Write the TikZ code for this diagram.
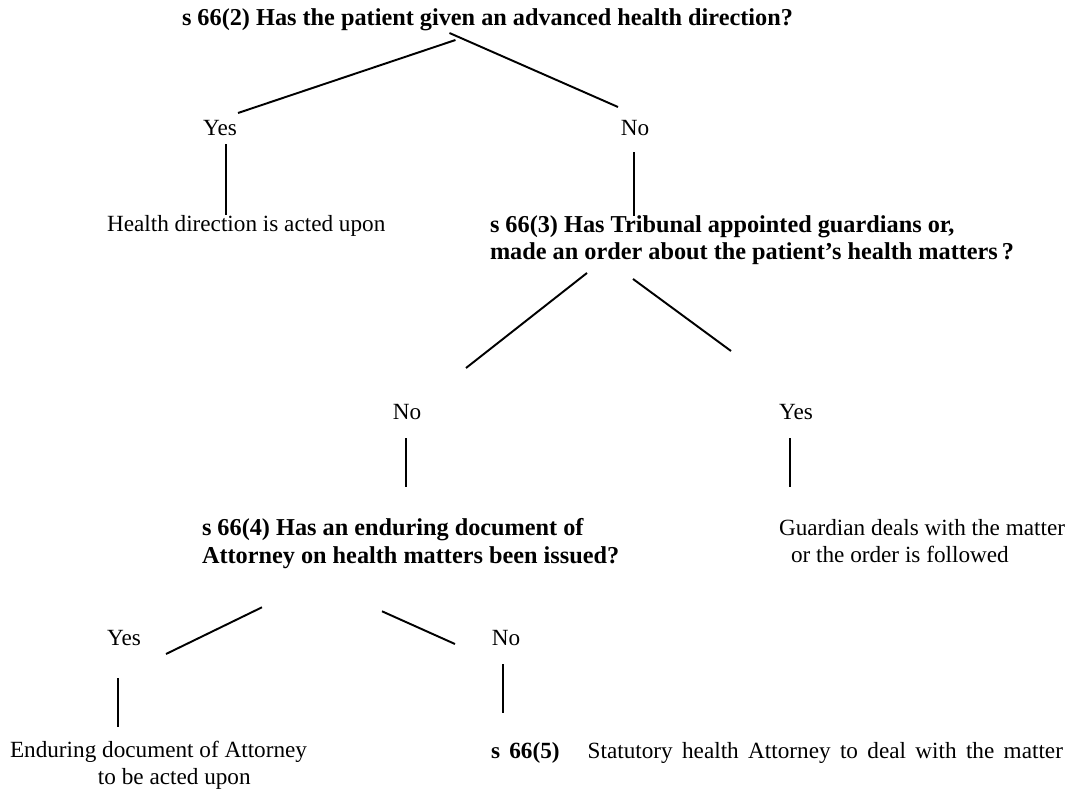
\documentclass[tikz,border=0pt]{standalone}
\usepackage{fontspec}
\setmainfont{Liberation Serif}
\usetikzlibrary{calc}

\begin{document}
\begin{tikzpicture}[
    x=0.5172pt, y=-0.5172pt,
    every node/.style={font=\fontsize{12}{14.2}\selectfont, inner sep=0pt, outer sep=0pt},
    question/.style={font=\fontsize{12.55}{14.2}\selectfont\bfseries, align=left},
    answer/.style={anchor=base},
    outcome/.style={align=left},
    link/.style={line width=1pt}
]
\useasboundingbox (0,0) rectangle (1068,792);

% s 66(2)
\node[question, anchor=base west] (q1) at (182,25) {s 66(2) Has the patient given an advanced health direction?};
\node[answer] (yes1) at (220,135) {Yes};
\node[answer] (no1) at (635,135) {No};
\node[outcome, anchor=base west] (acted) at (107,231) {Health direction is acted upon};

% s 66(3)
\node[question, anchor=north west] (q2) at (490,215.5) {s 66(3) Has Tribunal appointed guardians or,\\made an order about the patient’s health matters\,?};
\node[answer] (no2) at (407,419) {No};
\node[answer] (yes2) at (796,419) {Yes};
\node[outcome, anchor=north west] (guard) at (779,519) {Guardian deals with the matter\\\hspace*{6.2pt}or the order is followed};

% s 66(4)
\node[question, anchor=north west] (q3) at (202,518.5) {s 66(4) Has an enduring document of\\Attorney on health matters been issued?};
\node[answer] (yes3) at (124,645) {Yes};
\node[answer] (no3) at (506,645) {No};
\node[outcome, anchor=north west] (endur) at (10,741) {Enduring document of Attorney\\\hspace*{45.5pt}to be acted upon};
\node[outcome, anchor=base west] (stat) at (491,758) {\makebox[295.8pt][s]{\textbf{s 66(5)}\ \ \ Statutory health Attorney to deal with the matter}};

\coordinate (t1) at ($(yes1.base)+(6,9)$);
\coordinate (t2) at ($(no1.base)+(-1,17)$);
\coordinate (t3) at ($(no2.base)+(-1,19)$);
\coordinate (t4) at ($(yes2.base)+(-6,19)$);
\coordinate (t5) at ($(yes3.base)+(-6,33)$);
\coordinate (t6) at ($(no3.base)+(-3,19)$);

\draw[link] ($(q1.base)+(-32,15)$) -- ($(yes1.base)+(18,-22)$);
\draw[link] ($(q1.base)+(-38,8)$) -- ($(no1.base)+(-17,-28)$);
\draw[link] (t1) -- (t1 |- acted.north);
\draw[link] (t2) -- (t2 |- q2.north);

\draw[link] ($(q2.south west)+(97,8)$) -- ($(no2.base)+(59,-51)$);
\draw[link] ($(q2.south west)+(143,14)$) -- ($(yes2.base)+(-65,-68)$);
\draw[link, shorten >=16.3pt] (t3) -- (t3 |- q3.north);
\draw[link, shorten >=16.5pt] (t4) -- (t4 |- guard.north);

\draw[link] ($(q3.south west)+(60,39)$) -- ($(yes3.base)+(42,9)$);
\draw[link] ($(q3.south west)+(180,43)$) -- ($(no3.base)+(-51,-1)$);
\draw[link, shorten >=7.2pt] (t5) -- (t5 |- endur.north);
\draw[link, shorten >=15pt] (t6) -- (t6 |- stat.north);

\end{tikzpicture}
\end{document}
